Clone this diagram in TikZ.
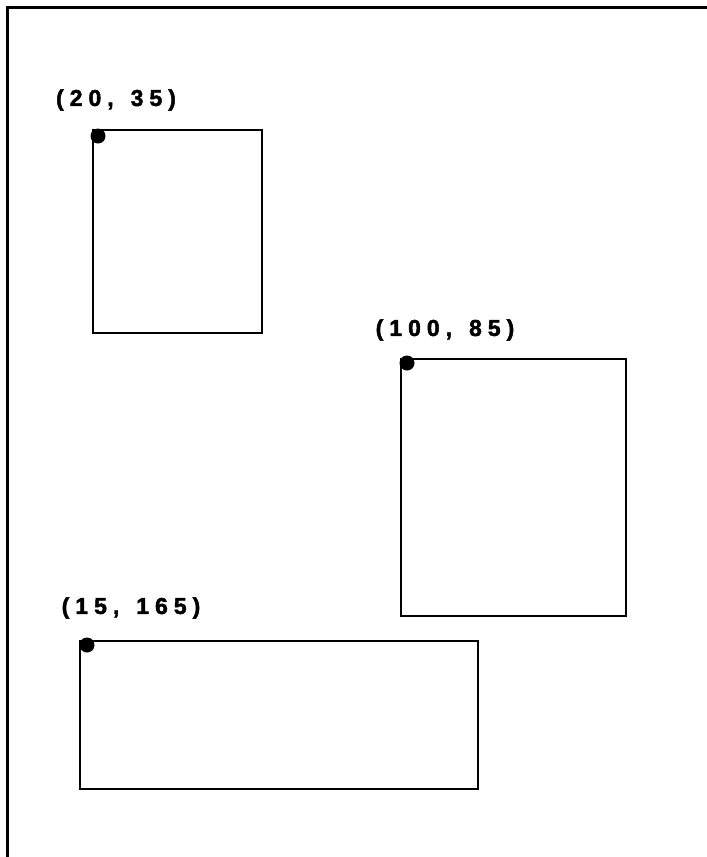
\documentclass[tikz,border=0pt]{standalone}
\usepackage{fontspec}
\newfontfamily\pixfont[LetterSpace=26,BoldFeatures={FakeBold=2}]{Liberation Sans}
\newcommand\gap{\hspace{17pt}}
\usetikzlibrary{positioning}

\begin{document}
\begin{tikzpicture}[x=1pt,y=-1pt,
  box/.style={draw,line width=2.4pt,inner sep=0pt,anchor=north west},
  dot/.style={circle,fill=black,inner sep=0pt,minimum size=15pt},
  lbl/.style={font=\pixfont\bfseries\fontsize{23}{23}\selectfont,inner sep=0pt}]
  \useasboundingbox (0,0) rectangle (707,857);

  % window frame
  \coordinate (frameR) at (707,7);
  \coordinate (frameC) at (7,7);
  \coordinate (frameB) at (7,857);
  \draw[line width=3pt] (frameR) -- (frameC) -- (frameB);

  % the three rectangles, each with its origin point
  \node[box,minimum width=169pt,minimum height=203pt] (boxA) at (92,129) {};
  \node[box,minimum width=225pt,minimum height=257pt] (boxB) at (400,358) {};
  \node[box,minimum width=398pt,minimum height=148pt] (boxC) at (79,640) {};

  \node[dot] (dotA) at ([shift={(6,7)}]boxA.north west) {};
  \node[dot] (dotB) at ([shift={(7,5)}]boxB.north west) {};
  \node[dot] (dotC) at ([shift={(8,5)}]boxC.north west) {};

  \node[lbl] (lblA) at (116,100) {(20,\gap 35)};
  \node[lbl] (lblB) at (445,330) {(100,\gap 85)};
  \node[lbl] (lblC) at (131,608) {(15,\gap 165)};
\end{tikzpicture}
\end{document}
